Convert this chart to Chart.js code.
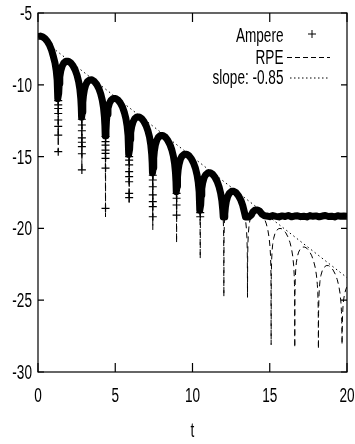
<!DOCTYPE html>
<html>
<head>
<meta charset="utf-8">
<script src="https://cdn.jsdelivr.net/npm/chart.js@4.4.1/dist/chart.umd.min.js"></script>
<style>
  html, body { margin: 0; padding: 0; background: #fff; }
  canvas { display: block; }
</style>
</head>
<body>
<canvas id="chart" width="355" height="444"></canvas>
<script>
// RPE curve (dashed)
const rpeT = [
  0, 0.15, 0.3, 0.45, 0.6, 0.75, 0.88, 1.0, 1.1, 1.18, 1.24, 1.27, 1.29, 1.30, 1.31,
  1.32, 1.34, 1.37, 1.41, 1.47, 1.56, 1.66, 1.81, 1.96, 2.11, 2.26, 2.41, 2.53, 2.63, 2.71, 2.77, 2.80, 2.82, 2.83, 2.84,
  2.85, 2.87, 2.90, 2.94, 3.00, 3.09, 3.19, 3.34, 3.49, 3.64, 3.79, 3.94, 4.06, 4.16, 4.24, 4.30, 4.33, 4.35, 4.36, 4.37,
  4.38, 4.40, 4.43, 4.47, 4.53, 4.62, 4.72, 4.87, 5.02, 5.17, 5.32, 5.47, 5.59, 5.69, 5.77, 5.83, 5.86, 5.88, 5.89, 5.90,
  5.91, 5.93, 5.96, 6.00, 6.06, 6.15, 6.25, 6.40, 6.55, 6.70, 6.85, 7.00, 7.12, 7.22, 7.30, 7.36, 7.39, 7.41, 7.42, 7.43,
  7.44, 7.46, 7.49, 7.53, 7.59, 7.68, 7.78, 7.93, 8.08, 8.23, 8.39, 8.54, 8.66, 8.76, 8.84, 8.90, 8.93, 8.95, 8.96, 8.97,
  8.98, 9.00, 9.03, 9.07, 9.13, 9.22, 9.32, 9.47, 9.62, 9.77, 9.92, 10.07, 10.19, 10.29, 10.37, 10.43, 10.46, 10.48, 10.49, 10.50,
  10.51, 10.53, 10.56, 10.60, 10.66, 10.75, 10.85, 11.00, 11.15, 11.30, 11.45, 11.60, 11.72, 11.82, 11.90, 11.96, 11.99, 12.01, 12.02, 12.03,
  12.04, 12.06, 12.09, 12.13, 12.19, 12.28, 12.38, 12.53, 12.68, 12.83, 12.98, 13.13, 13.25, 13.35, 13.43, 13.49, 13.52, 13.54, 13.55, 13.56,
  13.57, 13.59, 13.62, 13.66, 13.72, 13.81, 13.91, 14.06, 14.21, 14.36, 14.51, 14.66, 14.78, 14.88, 14.96, 15.02, 15.05, 15.07, 15.08, 15.09,
  15.10, 15.12, 15.15, 15.19, 15.25, 15.34, 15.44, 15.59, 15.74, 15.89, 16.04, 16.19, 16.31, 16.41, 16.49, 16.55, 16.58, 16.60, 16.61, 16.62,
  16.63, 16.65, 16.68, 16.72, 16.78, 16.87, 16.97, 17.12, 17.27, 17.42, 17.57, 17.72, 17.84, 17.94, 18.02, 18.08, 18.11, 18.13, 18.14, 18.15,
  18.16, 18.18, 18.21, 18.25, 18.31, 18.40, 18.50, 18.65, 18.80, 18.95, 19.10, 19.25, 19.37, 19.47, 19.55, 19.61, 19.64, 19.66, 19.67, 19.68,
  19.69, 19.71, 19.74, 19.78, 19.84, 19.93, 20.00
];
const rpeY = [
  -6.63, -6.61, -6.66, -6.78, -6.97, -7.24, -7.6, -8.05, -8.48, -9.01, -9.67, -10.25, -10.96, -11.67, -14.66,
  -11.68, -10.60, -9.93, -9.46, -9.05, -8.71, -8.50, -8.36, -8.36, -8.46, -8.67, -8.98, -9.34, -9.78, -10.30, -10.96, -11.55, -12.26, -12.96, -15.93,
  -12.97, -11.89, -11.23, -10.75, -10.35, -10.00, -9.79, -9.66, -9.65, -9.76, -9.96, -10.27, -10.63, -11.07, -11.60, -12.26, -12.84, -13.55, -14.25, -19.2,
  -14.27, -13.19, -12.52, -12.05, -11.64, -11.29, -11.09, -10.95, -10.95, -11.05, -11.25, -11.56, -11.93, -12.36, -12.89, -13.55, -14.13, -14.84, -15.54, -18.2,
  -15.56, -14.48, -13.81, -13.34, -12.93, -12.59, -12.38, -12.24, -12.24, -12.34, -12.55, -12.86, -13.22, -13.65, -14.18, -14.84, -15.43, -16.13, -16.84, -20.1,
  -16.85, -15.77, -15.11, -14.63, -14.22, -13.88, -13.67, -13.53, -13.53, -13.63, -13.85, -14.16, -14.52, -14.96, -15.48, -16.14, -16.73, -17.44, -18.14, -21.0,
  -18.15, -17.07, -16.41, -15.93, -15.53, -15.18, -14.97, -14.84, -14.83, -14.94, -15.14, -15.45, -15.81, -16.25, -16.78, -17.44, -18.02, -18.73, -19.43, -22.1,
  -19.45, -18.37, -17.70, -17.23, -16.82, -16.47, -16.27, -16.13, -16.13, -16.23, -16.43, -16.74, -17.11, -17.54, -18.07, -18.73, -19.31, -20.02, -20.72, -24.75,
  -20.74, -19.66, -18.99, -18.52, -18.11, -17.77, -17.56, -17.42, -17.42, -17.52, -17.73, -18.04, -18.40, -18.83, -19.36, -20.02, -20.61, -21.31, -22.02, -24.8,
  -22.03, -20.95, -20.29, -19.81, -19.40, -19.06, -18.85, -18.71, -18.71, -18.81, -19.02, -19.33, -19.69, -20.13, -20.66, -21.32, -21.90, -22.61, -23.31, -28.1,
  -23.33, -22.24, -21.58, -21.11, -20.70, -20.35, -20.14, -20.01, -20.01, -20.11, -20.31, -20.62, -20.98, -21.42, -21.95, -22.61, -23.19, -23.90, -24.60, -28.3,
  -24.62, -23.54, -22.87, -22.40, -21.99, -21.65, -21.44, -21.30, -21.30, -21.40, -21.60, -21.91, -22.28, -22.71, -23.24, -23.90, -24.48, -25.19, -25.90, -28.4,
  -25.91, -24.83, -24.16, -23.69, -23.28, -22.94, -22.73, -22.59, -22.59, -22.69, -22.90, -23.21, -23.57, -24.01, -24.53, -25.19, -25.78, -26.49, -27.19, -28.1,
  -27.20, -26.12, -25.46, -24.98, -24.58, -24.23, -24.07
];

// Ampere: dense band of points (drawn as a thick trace), flattening at the noise floor
const ampT = [
  0, 0.15, 0.3, 0.45, 0.6, 0.75, 0.88, 1.0, 1.1, 1.18, 1.24, 1.27, 1.29,
  1.34, 1.37, 1.41, 1.47, 1.56, 1.66, 1.81, 1.96, 2.11, 2.26, 2.41, 2.53, 2.63, 2.71, 2.77, 2.80, 2.82,
  2.87, 2.90, 2.94, 3.00, 3.09, 3.19, 3.34, 3.49, 3.64, 3.79, 3.94, 4.06, 4.16, 4.24, 4.30, 4.33, 4.35,
  4.40, 4.43, 4.47, 4.53, 4.62, 4.72, 4.87, 5.02, 5.17, 5.32, 5.47, 5.59, 5.69, 5.77, 5.83, 5.86, 5.88,
  5.93, 5.96, 6.00, 6.06, 6.15, 6.25, 6.40, 6.55, 6.70, 6.85, 7.00, 7.12, 7.22, 7.30, 7.36, 7.39, 7.41,
  7.46, 7.49, 7.53, 7.59, 7.68, 7.78, 7.93, 8.08, 8.23, 8.39, 8.54, 8.66, 8.76, 8.84, 8.90, 8.93, 8.95,
  9.00, 9.03, 9.07, 9.13, 9.22, 9.32, 9.47, 9.62, 9.77, 9.92, 10.07, 10.19, 10.29, 10.37, 10.43, 10.46, 10.48,
  10.53, 10.56, 10.60, 10.66, 10.75, 10.85, 11.00, 11.15, 11.30, 11.45, 11.60, 11.72, 11.82, 11.90, 11.96, 11.99, 12.01,
  12.06, 12.09, 12.13, 12.19, 12.28, 12.38, 12.53, 12.68, 12.83, 12.98, 13.13, 13.25, 13.35, 13.43, 13.49, 13.52, 13.54,
  13.59, 13.62, 13.66, 13.72, 13.81, 13.91, 14.06, 14.21, 14.36, 14.51, 14.66,
  14.8, 15.0, 15.2, 15.4, 15.6, 15.8, 16.0, 16.2, 16.4, 16.6, 16.8, 17.0, 17.2, 17.4,
  17.6, 17.8, 18.0, 18.2, 18.4, 18.6, 18.8, 19.0, 19.2, 19.4, 19.6, 19.8, 20.0
];
const ampY = [
  -6.63, -6.61, -6.66, -6.78, -6.97, -7.24, -7.6, -8.05, -8.48, -9.01, -9.67, -10.25, -10.96,
  -10.60, -9.93, -9.46, -9.05, -8.71, -8.50, -8.36, -8.36, -8.46, -8.67, -8.98, -9.34, -9.78, -10.30, -10.96, -11.55, -12.26,
  -11.89, -11.23, -10.75, -10.35, -10.00, -9.79, -9.66, -9.65, -9.76, -9.96, -10.27, -10.63, -11.07, -11.60, -12.26, -12.84, -13.55,
  -13.19, -12.52, -12.05, -11.64, -11.29, -11.09, -10.95, -10.95, -11.05, -11.25, -11.56, -11.93, -12.36, -12.89, -13.55, -14.13, -14.84,
  -14.48, -13.81, -13.34, -12.93, -12.59, -12.38, -12.24, -12.24, -12.34, -12.55, -12.86, -13.22, -13.65, -14.18, -14.84, -15.43, -16.13,
  -15.77, -15.11, -14.63, -14.22, -13.88, -13.67, -13.53, -13.53, -13.63, -13.85, -14.16, -14.52, -14.96, -15.48, -16.14, -16.73, -17.44,
  -17.07, -16.41, -15.93, -15.53, -15.18, -14.97, -14.84, -14.83, -14.94, -15.14, -15.45, -15.81, -16.25, -16.78, -17.44, -18.02, -18.73,
  -18.37, -17.70, -17.23, -16.82, -16.47, -16.27, -16.13, -16.13, -16.23, -16.43, -16.74, -17.11, -17.54, -18.07, -18.73, -19.2, -19.2,
  -19.2, -18.99, -18.52, -18.11, -17.77, -17.56, -17.42, -17.42, -17.52, -17.73, -18.04, -18.40, -18.83, -19.2, -19.2, -19.2, -19.2,
  -19.2, -19.2, -19.2, -19.2, -19.06, -18.85, -18.71, -18.71, -18.81, -19.02, -19.12,
  -19.14, -19.18, -19.11, -19.16, -19.2, -19.13, -19.17, -19.1, -19.19, -19.14, -19.12, -19.18, -19.15, -19.2,
  -19.11, -19.16, -19.13, -19.19, -19.14, -19.1, -19.17, -19.15, -19.2, -19.12, -19.16, -19.14, -19.15
];

// Ampere points that fall away below the band at each zero crossing
const dipT = [
  1.31, 1.31, 1.31, 1.31, 1.31, 1.31, 1.31, 1.31,
  2.84, 2.84, 2.84, 2.84, 2.84, 2.84, 2.84, 2.84,
  4.37, 4.37, 4.37, 4.37, 4.37, 4.37, 4.37, 4.37,
  5.90, 5.90, 5.90, 5.90, 5.90, 5.90, 5.90, 5.90,
  7.43, 7.43, 7.43, 7.43, 7.43, 7.43, 7.43,
  8.97, 8.97, 8.97, 8.97,
  10.50, 10.50
];
const dipY = [
  -11.1, -11.4, -11.65, -12.0, -12.45, -12.9, -13.5, -14.66,
  -12.4, -12.8, -13.2, -13.7, -14.0, -14.3, -14.8, -15.93,
  -13.6, -13.96, -14.2, -14.55, -14.77, -15.12, -15.8, -18.6,
  -15.0, -15.25, -15.58, -16.05, -16.4, -16.75, -17.56, -17.85,
  -16.3, -16.63, -17.1, -17.67, -18.14, -18.49, -19.19,
  -17.56, -17.9, -18.37, -19.07,
  -18.9, -19.19
];

// fitted slope line
const slopeT = [0, 20];
const slopeY = [-6.63, -23.43];

const xTicks = [0, 5, 10, 15, 20];
const yTicks = [-5, -10, -15, -20, -25, -30];
const legendLabels = ['Ampere', 'RPE', 'slope: -0.85'];

function pts(xs, ys) {
  return xs.map((x, i) => ({x: x, y: ys[i]}));
}

const FONT = '20px "Liberation Sans", Arial, sans-serif';
const SQUEEZE = 0.68;

function squeezedText(ctx, text, x, y, align) {
  ctx.save();
  ctx.translate(x, y);
  ctx.scale(SQUEEZE, 1);
  ctx.textAlign = align;
  ctx.textBaseline = 'alphabetic';
  ctx.fillText(text, 0, 0);
  ctx.restore();
}

// gnuplot style frame, inward ticks, squeezed labels and key
const gnuplotFrame = {
  id: 'gnuplotFrame',
  afterDraw(chart) {
    const ctx = chart.ctx;
    const a = chart.chartArea;
    const xs = chart.scales.x, ys = chart.scales.y;
    ctx.save();
    ctx.strokeStyle = '#000';
    ctx.fillStyle = '#000';
    ctx.lineWidth = 1.2;
    ctx.strokeRect(a.left, a.top, a.right - a.left, a.bottom - a.top);

    ctx.beginPath();
    xTicks.forEach(v => {
      const px = xs.getPixelForValue(v);
      ctx.moveTo(px, a.bottom); ctx.lineTo(px, a.bottom - 9);
      ctx.moveTo(px, a.top); ctx.lineTo(px, a.top + 9);
    });
    yTicks.forEach(v => {
      const py = ys.getPixelForValue(v);
      ctx.moveTo(a.left, py); ctx.lineTo(a.left + 6, py);
      ctx.moveTo(a.right, py); ctx.lineTo(a.right - 6, py);
    });
    ctx.stroke();

    ctx.font = FONT;
    xTicks.forEach(v => squeezedText(ctx, String(v), xs.getPixelForValue(v), a.bottom + 30, 'center'));
    yTicks.forEach(v => squeezedText(ctx, String(v), a.left - 6, ys.getPixelForValue(v) + 7, 'right'));
    squeezedText(ctx, 't', (a.left + a.right) / 2, a.bottom + 65, 'center');

    // key
    const keyX = 283.5;
    const base = [42, 63.5, 84];
    legendLabels.forEach((s, i) => squeezedText(ctx, s, keyX, base[i], 'right'));
    ctx.lineWidth = 1;
    ctx.beginPath();
    ctx.moveTo(308, base[0] - 8); ctx.lineTo(316, base[0] - 8);
    ctx.moveTo(312, base[0] - 12); ctx.lineTo(312, base[0] - 4);
    ctx.stroke();
    ctx.setLineDash([5, 3]);
    ctx.beginPath();
    ctx.moveTo(287, base[1] - 6); ctx.lineTo(330, base[1] - 6);
    ctx.stroke();
    ctx.setLineDash([1.5, 2.5]);
    ctx.beginPath();
    ctx.moveTo(290, base[2] - 6); ctx.lineTo(328, base[2] - 6);
    ctx.stroke();
    ctx.restore();
  }
};

new Chart(document.getElementById('chart').getContext('2d'), {
  type: 'scatter',
  data: {
    datasets: [
      {
        label: 'Ampere',
        data: pts(dipT, dipY),
        showLine: false,
        pointStyle: 'cross',
        pointRadius: 4,
        borderWidth: 1.2,
        borderColor: '#000',
        order: 0
      },
      {
        label: 'Ampere band',
        data: pts(ampT, ampY),
        showLine: true,
        borderColor: '#000',
        borderWidth: 7,
        borderJoinStyle: 'round',
        pointRadius: 0,
        order: 1
      },
      {
        label: 'RPE',
        data: pts(rpeT, rpeY),
        showLine: true,
        borderColor: '#000',
        borderWidth: 1,
        borderDash: [6, 4],
        pointRadius: 0,
        order: 2
      },
      {
        label: 'slope: -0.85',
        data: pts(slopeT, slopeY),
        showLine: true,
        borderColor: '#000',
        borderWidth: 1,
        borderDash: [1.5, 3],
        pointRadius: 0,
        order: 3
      }
    ]
  },
  options: {
    responsive: false,
    devicePixelRatio: 1,
    animation: false,
    layout: { padding: { top: 13, right: 8, left: 0, bottom: 0 } },
    plugins: { legend: { display: false }, tooltip: { enabled: false } },
    scales: {
      x: {
        type: 'linear', min: 0, max: 20,
        ticks: { display: false },
        grid: { display: false, drawTicks: false },
        border: { display: false },
        afterFit(s) { s.height = 72; }
      },
      y: {
        type: 'linear', min: -30, max: -5,
        ticks: { display: false },
        grid: { display: false, drawTicks: false },
        border: { display: false },
        afterFit(s) { s.width = 38; }
      }
    }
  },
  plugins: [gnuplotFrame]
});
</script>
</body>
</html>
